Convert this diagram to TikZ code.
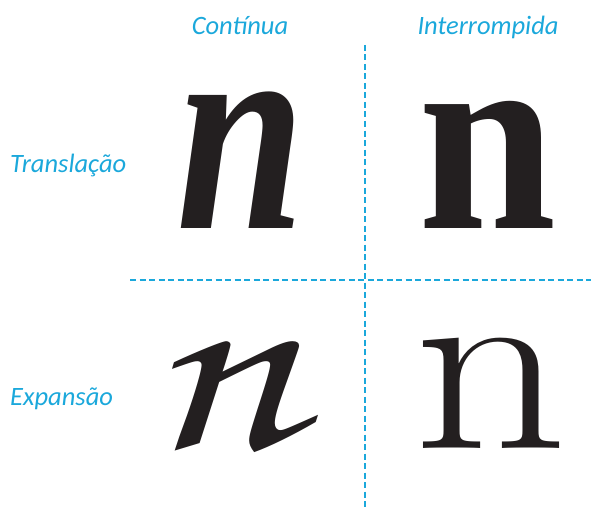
\documentclass[tikz,border=0pt]{standalone}
\usepackage{fontspec}
\newfontfamily\labelfont{Carlito}
\newfontfamily\boldserif{Liberation Serif}
\newfontfamily\chorusfont{TeX Gyre Chorus}
\usetikzlibrary{positioning}
\definecolor{guidecyan}{RGB}{27,168,219}
\definecolor{inkblack}{RGB}{35,31,32}

\begin{document}
\begin{tikzpicture}[x=1pt, y=-1pt,
  head/.style={anchor=base, inner sep=0pt, text=guidecyan, font=\labelfont\itshape\fontsize{26.5}{30}\selectfont},
  rowhead/.style={head, anchor=base west},
  glyph/.style={anchor=base, inner sep=0pt, text=inkblack},
  guide/.style={guidecyan, line width=1.2pt, dash pattern=on 6pt off 3.5pt}
]
\useasboundingbox (0,0) rectangle (591,508);

% column and row headings
\node[head] (cont) at (240,35) {Contínua};
\node[head] (inter) at (488,35) {Interrompida};
\node[rowhead] (trans) at (10,172) {Translação};
\node[rowhead] (expan) at (10,405) {Expansão};

% dividing lines
\coordinate (vtop) at (365,45);
\coordinate (vbot) at (365,508);
\coordinate (hleft) at (130,280);
\coordinate (hright) at (591,280);
\draw[guide] (vtop) -- (vbot);
\draw[guide] (hleft) -- (hright);

% the four letters
\node[glyph] (tl) at (241,228) {\scalebox{0.8}[1]{\boldserif\bfseries\itshape\fontsize{290}{300}\selectfont n}};
\node[glyph] (tr) at (488,228) {\scalebox{0.92}[1]{\boldserif\bfseries\fontsize{270}{300}\selectfont n}};
\node[glyph] (bl) at (222,448) {\scalebox{1.28}[1]{\chorusfont\fontsize{260}{300}\selectfont n}};
\node[glyph] (br) at (491,448) {\scalebox{1.2}[1]{\fontsize{252}{300}\selectfont n}};

\end{tikzpicture}
\end{document}
